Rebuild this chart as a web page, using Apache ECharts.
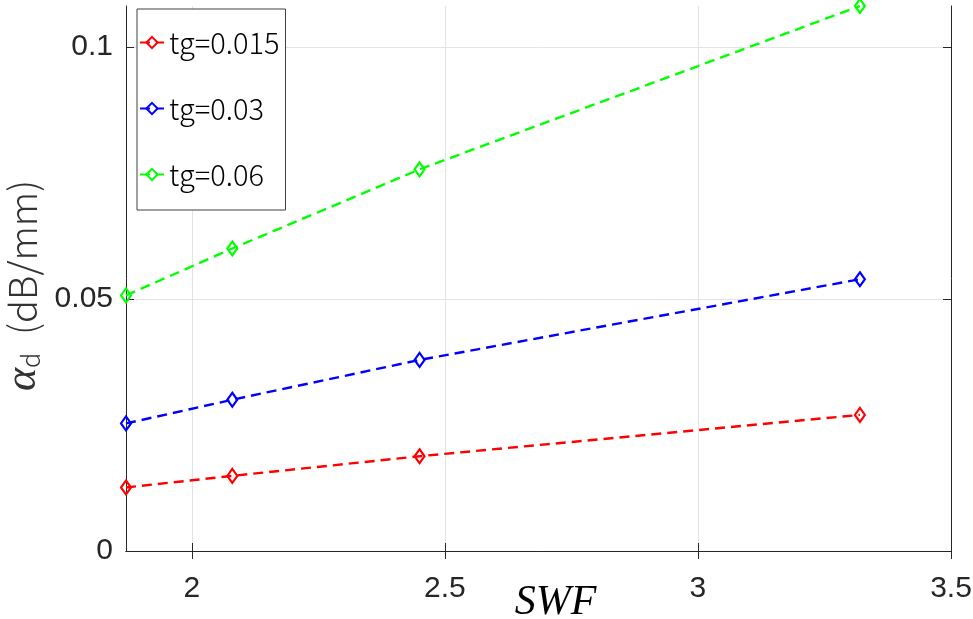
<!DOCTYPE html>
<html>
<head>
<meta charset="utf-8">
<script src="https://cdn.jsdelivr.net/npm/echarts@6/dist/echarts.min.js"></script>
<style>html,body{margin:0;padding:0;background:#fff}#c{width:973px;height:619px}</style>
</head>
<body>
<div id="c"></div>
<script>
// Data
const swf = [1.87, 2.08, 2.45, 3.32];
const tg015 = [0.0126, 0.0149, 0.0188, 0.0270];
const tg03 = [0.0253, 0.0300, 0.0379, 0.0539];
const tg06 = [0.0507, 0.0600, 0.0757, 0.1081];
const seriesNames = ['tg=0.015', 'tg=0.03', 'tg=0.06'];
const xTicks = [2, 2.5, 3, 3.5];
const yTicks = [0, 0.05, 0.1];

const colors = ['#ff0000', '#0000ff', '#00ff00'];
const values = [tg015, tg03, tg06];

const chart = echarts.init(document.getElementById('c'), null, {renderer: 'canvas'});
const axisColor = '#262626';
const tickFont = {fontFamily: '"Liberation Sans Narrow", "Liberation Sans", sans-serif', fontSize: 30, color: axisColor};

const series = values.map((vals, i) => ({
  name: seriesNames[i],
  type: 'line',
  xAxisIndex: 0,
  yAxisIndex: 0,
  data: swf.map((x, j) => [x, vals[j]]),
  symbol: 'diamond',
  symbolSize: [10, 14],
  clip: false,
  lineStyle: {color: colors[i], width: 2.4, type: [10, 6]},
  itemStyle: {color: 'rgba(255,255,255,0)', borderColor: colors[i], borderWidth: 2.2},
  emphasis: {disabled: true}
}));

chart.setOption({
  animation: false,
  grid: {left: 126, right: 22, top: 6, bottom: 68, containLabel: false, outerBoundsMode: 'none'},
  legend: {
    data: seriesNames,
    orient: 'vertical',
    left: 137,
    top: 9,
    itemWidth: 24,
    itemHeight: 14,
    itemGap: 37,
    padding: [19, 6, 21, 2],
    backgroundColor: '#fff',
    borderColor: '#404040',
    borderWidth: 1,
    borderRadius: 0,
    textStyle: {fontFamily: '"Noto Sans CJK JP", "Noto Sans", sans-serif', fontSize: 29, color: '#000', fontWeight: 300}
  },
  xAxis: [{
    type: 'value',
    min: 1.87,
    max: 3.5,
    position: 'bottom',
    name: 'SWF',
    nameLocation: 'middle',
    nameGap: 31,
    nameMoveOverlap: false,
    nameTextStyle: {fontFamily: '"Liberation Serif", serif', fontStyle: 'italic', fontSize: 42, color: '#000', padding: [0, 0, 0, 34]},
    axisLine: {show: true, lineStyle: {color: axisColor, width: 1}},
    axisTick: {show: true, inside: true, length: 8, lineStyle: {color: axisColor}, customValues: xTicks},
    axisLabel: Object.assign({show: true, margin: 23, customValues: xTicks}, tickFont),
    splitLine: {show: true, lineStyle: {color: '#e3e3e3', width: 1}}
  }, {
    type: 'value',
    min: 1.87,
    max: 3.5,
    position: 'top',
    axisLine: {show: true, lineStyle: {color: axisColor, width: 1}},
    axisTick: {show: true, inside: true, length: 8, lineStyle: {color: axisColor}, customValues: xTicks},
    axisLabel: {show: false},
    splitLine: {show: false}
  }],
  yAxis: [{
    type: 'value',
    min: 0,
    max: 0.1081,
    position: 'left',
    name: '{a|α}{s|d}{g| }(dB/mm)',
    nameLocation: 'middle',
    nameRotate: 90,
    nameGap: 83,
    nameMoveOverlap: false,
    nameTextStyle: {
      fontFamily: '"Noto Sans CJK JP", "Noto Sans", sans-serif',
      fontSize: 38, fontWeight: 300, color: '#333', lineHeight: 40,
      padding: [0, 14, 0, 0],
      rich: {
        a: {fontFamily: '"Liberation Serif", serif', fontStyle: 'italic', fontSize: 44, color: '#333', lineHeight: 40},
        s: {fontFamily: '"Noto Sans CJK JP", "Noto Sans", sans-serif', fontSize: 25, fontWeight: 300, color: '#333', verticalAlign: 'bottom', lineHeight: 40},
        g: {width: 18, fontSize: 38, lineHeight: 40}
      }
    },
    axisLine: {show: true, lineStyle: {color: axisColor, width: 1}},
    axisTick: {show: true, inside: true, length: 8, lineStyle: {color: axisColor}, customValues: yTicks},
    axisLabel: Object.assign({show: true, margin: 13, customValues: yTicks}, tickFont),
    splitLine: {show: true, lineStyle: {color: '#e3e3e3', width: 1}}
  }, {
    type: 'value',
    min: 0,
    max: 0.1081,
    position: 'right',
    axisLine: {show: true, lineStyle: {color: axisColor, width: 1}},
    axisTick: {show: true, inside: true, length: 8, lineStyle: {color: axisColor}, customValues: yTicks},
    axisLabel: {show: false},
    splitLine: {show: false}
  }],
  series: series
});
</script>
</body>
</html>
